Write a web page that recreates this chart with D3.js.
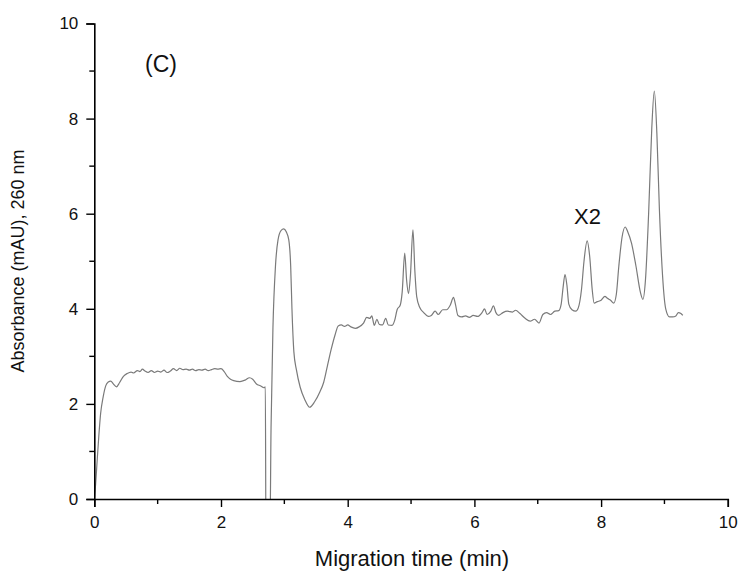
<!DOCTYPE html>
<html>
<head>
<meta charset="utf-8">
<script src="https://cdn.jsdelivr.net/npm/d3@7"></script>
<style>
  body { margin: 0; background: #fff; }
  text { font-family: "Liberation Sans", Arial, sans-serif; }
</style>
</head>
<body>
<script>
// electropherogram trace
var time = [0.00,0.02,0.04,0.07,0.10,0.14,0.18,0.22,0.26,0.30,0.35,0.40,0.46,0.52,0.58,0.62,0.68,0.72,0.76,0.80,
  0.85,0.90,0.95,1.00,1.05,1.10,1.15,1.20,1.25,1.30,1.35,1.40,1.45,1.50,1.55,1.60,1.65,1.70,1.75,1.80,
  1.85,1.90,1.95,2.00,2.05,2.10,2.15,2.20,2.30,2.38,2.45,2.50,2.56,2.62,2.68,2.70,2.71,2.77,2.79,2.82,
  2.86,2.90,2.95,2.99,3.03,3.07,3.10,3.12,3.15,3.19,3.25,3.32,3.40,3.48,3.56,3.62,3.68,3.74,3.80,3.85,
  3.90,3.95,4.00,4.05,4.12,4.18,4.25,4.30,4.35,4.38,4.42,4.46,4.50,4.55,4.60,4.64,4.70,4.74,4.78,4.83,
  4.86,4.90,4.93,4.96,4.99,5.03,5.06,5.09,5.14,5.20,5.27,5.32,5.38,5.43,5.50,5.56,5.62,5.67,5.70,5.74,
  5.80,5.86,5.92,5.98,6.05,6.12,6.16,6.20,6.26,6.30,6.34,6.38,6.45,6.52,6.60,6.65,6.72,6.80,6.88,6.95,
  7.02,7.08,7.14,7.20,7.27,7.33,7.37,7.40,7.43,7.46,7.49,7.54,7.60,7.64,7.69,7.73,7.78,7.82,7.86,7.89,
  7.94,8.00,8.06,8.10,8.15,8.20,8.24,8.28,8.33,8.38,8.42,8.48,8.55,8.62,8.66,8.70,8.75,8.80,8.84,8.88,
  8.92,8.97,9.02,9.08,9.13,9.18,9.22,9.26,9.29];
var absorbance = [0.0,0.3,0.7,1.3,1.8,2.15,2.38,2.46,2.48,2.42,2.36,2.45,2.58,2.64,2.67,2.65,2.70,2.68,2.73,2.69,
  2.66,2.70,2.66,2.69,2.67,2.71,2.66,2.69,2.74,2.70,2.75,2.72,2.73,2.71,2.73,2.70,2.72,2.71,2.73,2.70,
  2.72,2.74,2.73,2.74,2.68,2.58,2.52,2.49,2.47,2.50,2.55,2.52,2.42,2.38,2.34,2.36,-1.0,-1.0,1.5,3.6,
  4.9,5.45,5.65,5.68,5.62,5.45,4.9,4.0,3.1,2.72,2.35,2.1,1.93,2.05,2.25,2.45,2.8,3.15,3.45,3.64,
  3.66,3.63,3.66,3.62,3.59,3.62,3.70,3.82,3.80,3.85,3.65,3.78,3.67,3.66,3.80,3.66,3.65,3.75,3.98,4.08,
  4.35,5.17,4.6,4.32,4.7,5.66,4.8,4.25,4.02,3.92,3.84,3.86,3.95,3.88,3.98,3.98,4.08,4.24,4.1,3.86,
  3.83,3.85,3.82,3.86,3.84,3.92,4.0,3.88,3.95,4.06,3.92,3.86,3.92,3.95,3.93,3.97,3.90,3.80,3.74,3.78,
  3.70,3.88,3.92,3.88,3.95,3.96,4.1,4.45,4.72,4.5,4.1,3.98,3.95,4.02,4.4,5.0,5.43,5.1,4.4,4.12,
  4.15,4.18,4.26,4.22,4.18,4.12,4.3,4.9,5.5,5.72,5.62,5.38,4.9,4.35,4.2,4.6,6.0,7.8,8.58,7.7,
  6.1,4.7,4.0,3.83,3.83,3.85,3.92,3.90,3.86];

var xTicks = [0, 2, 4, 6, 8, 10];
var yTicks = [0, 2, 4, 6, 8, 10];
var xMinor = [1, 3, 5, 7, 9];
var yMinor = [1, 3, 5, 7, 9];

var width = 739, height = 571;
var svg = d3.select("body").append("svg")
  .attr("width", width)
  .attr("height", height);

var x = d3.scaleLinear().domain([0, 10]).range([94.3, 727.8]);
var y = d3.scaleLinear().domain([0, 10]).range([499, 23.5]);

svg.append("clipPath").attr("id", "plotclip")
  .append("rect")
  .attr("x", x(0)).attr("y", y(10))
  .attr("width", x(10) - x(0)).attr("height", y(0) - y(10));

var pts = time.map(function(t, i) { return [t, absorbance[i]]; });

var line = d3.line()
  .curve(d3.curveMonotoneX)
  .x(function(d) { return x(d[0]); })
  .y(function(d) { return y(d[1]); });

svg.append("path")
  .datum(pts)
  .attr("clip-path", "url(#plotclip)")
  .attr("fill", "none")
  .attr("stroke", "#7a7a7a")
  .attr("stroke-width", 1.2)
  .attr("stroke-linejoin", "round")
  .attr("d", line);

// axes
var xAxis = svg.append("g")
  .attr("transform", "translate(0," + y(0) + ")")
  .call(d3.axisBottom(x).tickValues(xTicks).tickSize(8).tickPadding(9).tickFormat(d3.format("d")));
xAxis.append("g").selectAll("line").data(xMinor).enter().append("line")
  .attr("x1", function(d) { return x(d); }).attr("x2", function(d) { return x(d); })
  .attr("y1", 0).attr("y2", 5).attr("stroke", "#000").attr("stroke-width", 1.4);

var yAxis = svg.append("g")
  .attr("transform", "translate(" + x(0) + ",0)")
  .call(d3.axisLeft(y).tickValues(yTicks).tickSize(8).tickPadding(8).tickFormat(d3.format("d")));
yAxis.append("g").selectAll("line").data(yMinor).enter().append("line")
  .attr("y1", function(d) { return y(d); }).attr("y2", function(d) { return y(d); })
  .attr("x1", 0).attr("x2", -5).attr("stroke", "#000").attr("stroke-width", 1.4);

svg.selectAll(".domain").attr("stroke", "#000").attr("stroke-width", 1.6);
svg.selectAll(".tick line").attr("stroke", "#000").attr("stroke-width", 1.4);
svg.selectAll(".tick text")
  .attr("font-family", "Liberation Sans, Arial, sans-serif")
  .attr("font-size", "17px")
  .attr("fill", "#111");

// labels
svg.append("text")
  .attr("x", 412).attr("y", 566)
  .attr("text-anchor", "middle")
  .attr("font-size", "22px")
  .attr("fill", "#111")
  .text("Migration time (min)");

svg.append("text")
  .attr("transform", "translate(24,261) rotate(-90)")
  .attr("text-anchor", "middle")
  .attr("font-size", "18px")
  .attr("fill", "#111")
  .text("Absorbance (mAU), 260 nm");

svg.append("text")
  .attr("x", 145).attr("y", 72)
  .attr("font-size", "23px")
  .attr("fill", "#111")
  .text("(C)");

svg.append("text")
  .attr("x", 574).attr("y", 224)
  .attr("font-size", "22px")
  .attr("fill", "#111")
  .text("X2");
</script>
</body>
</html>
